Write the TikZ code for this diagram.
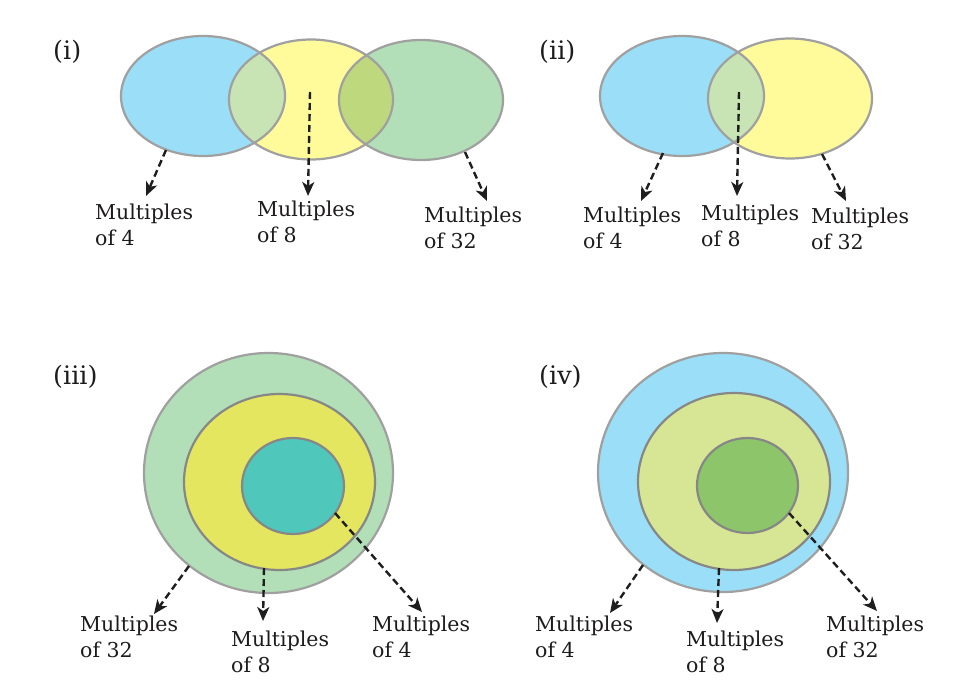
\documentclass[tikz,border=0pt]{standalone}
\usepackage{fontspec}
\setmainfont{DejaVu Serif}
\usetikzlibrary{arrows.meta}
\definecolor{cblue}{RGB}{154,222,248}
\definecolor{cyellow}{RGB}{255,250,154}
\definecolor{cgreen}{RGB}{178,223,183}
\definecolor{cby}{RGB}{200,228,180}
\definecolor{cyg}{RGB}{190,216,126}
\definecolor{cedge}{RGB}{160,160,160}
\definecolor{cedgeb}{RGB}{135,135,135}
\definecolor{cmidy}{RGB}{227,230,94}
\definecolor{cteal}{RGB}{79,199,186}
\definecolor{cmidg}{RGB}{215,230,149}
\definecolor{cinng}{RGB}{141,197,106}
\definecolor{carrow}{RGB}{30,30,30}
\definecolor{ctext}{RGB}{30,27,28}
\begin{document}
\begin{tikzpicture}[x=1pt,y=-1pt,
  setedge/.style={draw=cedge, line width=2.2pt},
  setedgeb/.style={draw=cedgeb, line width=2.2pt},
  lbl/.style={anchor=north west, align=left, inner sep=0pt, font=\fontsize{20.5}{26}\selectfont, text=ctext},
  arr/.style={draw=carrow, line width=2.4pt, dash pattern=on 7pt off 4pt, -{Stealth[length=14pt,width=12pt,inset=4pt]}},
  tag/.style={anchor=west, inner sep=0pt, font=\fontsize{25.5}{28}\selectfont, text=ctext}]
\useasboundingbox (0,0) rectangle (978,696);
\fill[white] (0,0) rectangle (978,696);

% ---------- (i) ----------
\node[tag] (t1) at (53,52) {(i)};
\fill[cblue] (203,96) ellipse [x radius=82pt, y radius=60pt];
\fill[cyellow] (311,99.5) ellipse [x radius=82pt, y radius=60pt];
\fill[cgreen] (421,100) ellipse [x radius=82pt, y radius=60pt];
\begin{scope}
  \clip (203,96) ellipse [x radius=82pt, y radius=60pt];
  \fill[cby] (311,99.5) ellipse [x radius=82pt, y radius=60pt];
\end{scope}
\begin{scope}
  \clip (311,99.5) ellipse [x radius=82pt, y radius=60pt];
  \fill[cyg] (421,100) ellipse [x radius=82pt, y radius=60pt];
\end{scope}
\draw[setedge] (203,96) ellipse [x radius=82pt, y radius=60pt];
\draw[setedge] (311,99.5) ellipse [x radius=82pt, y radius=60pt];
\draw[setedge] (421,100) ellipse [x radius=82pt, y radius=60pt];
\node[lbl] (l1a) at (95,204) {Multiples\\of 4};
\node[lbl] (l1b) at (257,201) {Multiples\\of 8};
\node[lbl] (l1c) at (424,207) {Multiples\\of 32};
\coordinate (s1a) at (166,150); \coordinate (e1a) at (146,196);
\coordinate (s1b) at (310,92);  \coordinate (e1b) at (308,196);
\coordinate (s1c) at (465,152); \coordinate (e1c) at (487,201);
\draw[arr] (s1a) -- (e1a);
\draw[arr] (s1b) -- (e1b);
\draw[arr] (s1c) -- (e1c);

% ---------- (ii) ----------
\node[tag] (t2) at (539,52) {(ii)};
\fill[cblue] (682,96) ellipse [x radius=82pt, y radius=60pt];
\fill[cyellow] (790,98.5) ellipse [x radius=82pt, y radius=60pt];
\begin{scope}
  \clip (682,96) ellipse [x radius=82pt, y radius=60pt];
  \fill[cby] (790,98.5) ellipse [x radius=82pt, y radius=60pt];
\end{scope}
\draw[setedge] (682,96) ellipse [x radius=82pt, y radius=60pt];
\draw[setedge] (790,98.5) ellipse [x radius=82pt, y radius=60pt];
\node[lbl] (l2a) at (583,207) {Multiples\\of 4};
\node[lbl] (l2b) at (701,205) {Multiples\\of 8};
\node[lbl] (l2c) at (811,208) {Multiples\\of 32};
\coordinate (s2a) at (663,153); \coordinate (e2a) at (641,201);
\coordinate (s2b) at (739,92);  \coordinate (e2b) at (737,196);
\coordinate (s2c) at (822,154); \coordinate (e2c) at (846,201);
\draw[arr] (s2a) -- (e2a);
\draw[arr] (s2b) -- (e2b);
\draw[arr] (s2c) -- (e2c);

% ---------- (iii) ----------
\node[tag] (t3) at (53,377) {(iii)};
\filldraw[fill=cgreen, setedge] (268.5,473) ellipse [x radius=124.5pt, y radius=120pt];
\filldraw[fill=cmidy, setedgeb] (279.5,482) ellipse [x radius=95.5pt, y radius=88pt];
\filldraw[fill=cteal, setedgeb] (293,486) ellipse [x radius=51pt, y radius=48pt];
\node[lbl] (l3a) at (80,616) {Multiples\\of 32};
\node[lbl] (l3b) at (231,631) {Multiples\\of 8};
\node[lbl] (l3c) at (372,616) {Multiples\\of 4};
\coordinate (s3a) at (189,566); \coordinate (e3a) at (154,614);
\coordinate (s3b) at (264,568); \coordinate (e3b) at (263,621);
\coordinate (s3c) at (335,513); \coordinate (e3c) at (422,612);
\draw[arr] (s3a) -- (e3a);
\draw[arr] (s3b) -- (e3b);
\draw[arr] (s3c) -- (e3c);

% ---------- (iv) ----------
\node[tag] (t4) at (539,377) {(iv)};
\filldraw[fill=cblue, setedge] (723,472.5) ellipse [x radius=125pt, y radius=119.5pt];
\filldraw[fill=cmidg, setedgeb] (734,481.5) ellipse [x radius=96pt, y radius=88.5pt];
\filldraw[fill=cinng, setedgeb] (747.5,485.5) ellipse [x radius=50.5pt, y radius=47.5pt];
\node[lbl] (l4a) at (535,616) {Multiples\\of 4};
\node[lbl] (l4b) at (686,631) {Multiples\\of 8};
\node[lbl] (l4c) at (826,616) {Multiples\\of 32};
\coordinate (s4a) at (643,565); \coordinate (e4a) at (610,613);
\coordinate (s4b) at (719,568); \coordinate (e4b) at (717,623);
\coordinate (s4c) at (789,513); \coordinate (e4c) at (877,611);
\draw[arr] (s4a) -- (e4a);
\draw[arr] (s4b) -- (e4b);
\draw[arr] (s4c) -- (e4c);
\end{tikzpicture}
\end{document}
